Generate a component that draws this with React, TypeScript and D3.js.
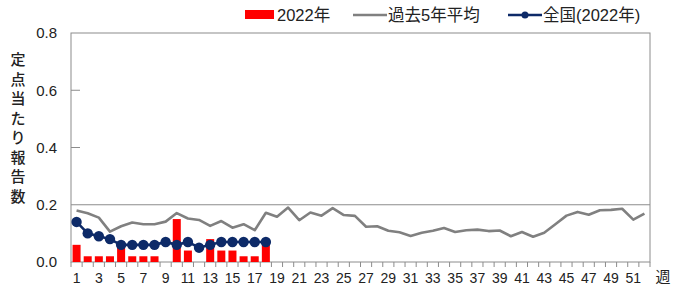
import React from 'react';
import * as d3 from 'd3';

const weeks = d3.range(1, 53);
const cases2022 = [0.06, 0.02, 0.02, 0.02, 0.06, 0.02, 0.02, 0.02, 0, 0.15, 0.04, 0, 0.08, 0.04, 0.04, 0.02, 0.02, 0.06];
const national2022 = [0.14, 0.10, 0.09, 0.08, 0.06, 0.06, 0.06, 0.06, 0.07, 0.06, 0.07, 0.05, 0.06, 0.07, 0.07, 0.07, 0.07, 0.07];
const past5yAvg = [
  0.18, 0.17, 0.155, 0.106, 0.125, 0.138, 0.132, 0.132, 0.141, 0.171,
  0.152, 0.147, 0.126, 0.143, 0.12, 0.132, 0.111, 0.172, 0.158, 0.19,
  0.146, 0.173, 0.162, 0.188, 0.164, 0.161, 0.123, 0.125, 0.109, 0.104,
  0.091, 0.102, 0.109, 0.119, 0.105, 0.111, 0.113, 0.108, 0.11, 0.09,
  0.105, 0.088, 0.102, 0.132, 0.162, 0.175, 0.165, 0.181, 0.182, 0.186,
  0.148, 0.169,
];
const yTicks = [0, 0.2, 0.4, 0.6, 0.8];
const yTitle = '定点当たり報告数';
const legendItems = ['2022年', '過去5年平均', '全国(2022年)'];

const W = 682;
const H = 288;
const plot = { left: 71, right: 650, top: 33, bottom: 262 };
const font = '"Liberation Sans", "Noto Sans CJK JP", sans-serif';
const jpFont = '"Noto Sans CJK JP", sans-serif';
const navy = '#0d2a68';

export default function App() {
  if (typeof document !== 'undefined') document.body.style.margin = '0';

  const x = d3.scaleBand<number>().domain(weeks).range([plot.left, plot.right]).paddingInner(0.28).paddingOuter(0.14);
  const xc = (w: number) => (x(w) as number) + x.bandwidth() / 2;
  const step = x.step();
  const y = d3.scaleLinear().domain([0, 0.8]).range([plot.bottom, plot.top]);

  const line = d3.line<number>().x((_, i) => xc(weeks[i])).y(d => y(d));

  return (
    <svg width={W} height={H} style={{ display: 'block' }}>
      <rect x={0} y={0} width={W} height={H} fill="#fff" />
      {/* plot frame */}
      <rect x={plot.left} y={plot.top} width={plot.right - plot.left} height={plot.bottom - plot.top}
        fill="none" stroke="#8c8c8c" strokeWidth={1} />
      {/* y ticks: short inner marks, full line at 0.2 */}
      {yTicks.map(t => (
        <g key={t}>
          {t === 0.2 && <line x1={plot.left} x2={plot.right} y1={y(t)} y2={y(t)} stroke="#8c8c8c" />}
          {t > 0.2 && t < 0.8 && <line x1={plot.left} x2={plot.left + 9} y1={y(t)} y2={y(t)} stroke="#8c8c8c" />}
          <text x={57} y={y(t)} dy="0.35em" textAnchor="end" fontSize={15} fontFamily={font} fill="#222">
            {t.toFixed(1)}
          </text>
        </g>
      ))}
      {/* x ticks */}
      {d3.range(0, 53).map(i => (
        <line key={i} x1={plot.left + i * step} x2={plot.left + i * step} y1={plot.bottom} y2={plot.bottom + 5} stroke="#8c8c8c" />
      ))}
      {weeks.filter(w => w % 2 === 1).map(w => (
        <text key={w} x={xc(w)} y={283} textAnchor="middle" fontSize={14} fontFamily={font} fill="#222">
          {w}
        </text>
      ))}
      <text x={663} y={282} textAnchor="middle" fontSize={15} fontFamily={jpFont} fill="#222">週</text>
      {/* y title */}
      {Array.from(yTitle).map((ch, i) => (
        <text key={i} x={18} y={60 + i * 19.5} dy="0.35em" textAnchor="middle" fontSize={15} fontFamily={jpFont}
          fontWeight={500} fill="#222">
          {ch}
        </text>
      ))}
      {/* bars */}
      {cases2022.map((v, i) => (
        <rect key={i} x={x(weeks[i])} y={y(v)} width={x.bandwidth()} height={y(0) - y(v)} fill="#ff0000" />
      ))}
      {/* past 5y average */}
      <path d={line(past5yAvg) || ''} fill="none" stroke="#808080" strokeWidth={2.6} strokeLinejoin="round" />
      {/* national */}
      <path d={line(national2022) || ''} fill="none" stroke={navy} strokeWidth={2.6} />
      {national2022.map((v, i) => (
        <circle key={i} cx={xc(weeks[i])} cy={y(v)} r={5.2} fill={navy} />
      ))}
      {/* legend */}
      <rect x={245} y={10} width={29} height={9} fill="#ff0000" />
      <text x={277} y={15} dy="0.35em" fontSize={16.5} fontFamily={font} fill="#222">{legendItems[0]}</text>
      <line x1={353} x2={387} y1={15} y2={15} stroke="#808080" strokeWidth={2.6} />
      <text x={388} y={15} dy="0.35em" fontSize={16.5} fontFamily={font} fill="#222">{legendItems[1]}</text>
      <line x1={508} x2={542} y1={15} y2={15} stroke={navy} strokeWidth={2.6} />
      <circle cx={525} cy={15} r={3.5} fill={navy} />
      <text x={543} y={15} dy="0.35em" fontSize={16.5} fontFamily={font} fill="#222">{legendItems[2]}</text>
    </svg>
  );
}
